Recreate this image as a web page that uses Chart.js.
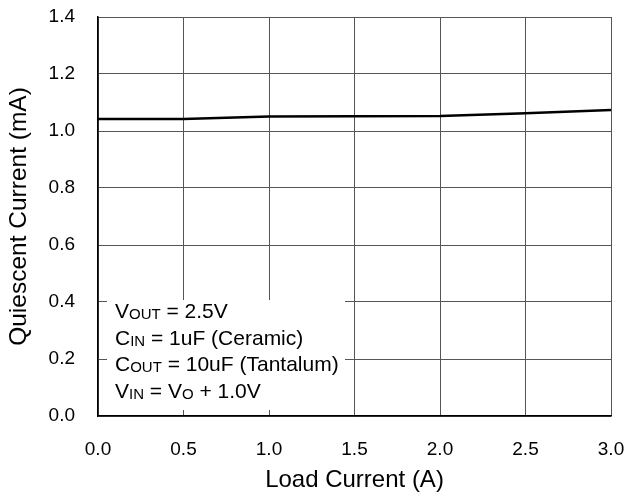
<!DOCTYPE html>
<html>
<head>
<meta charset="utf-8">
<script src="https://cdn.jsdelivr.net/npm/chart.js@4"></script>
<style>
  html, body { margin: 0; padding: 0; background: #fff; }
  #wrap { width: 640px; height: 498px; }
</style>
</head>
<body>
<div id="wrap"><canvas id="c" width="640" height="498"></canvas></div>
<script>
// Quiescent current vs load current
const loadCurrent = [0, 0.5, 1.0, 1.5, 2.0, 2.5, 3.0];
const quiescent = [1.042, 1.042, 1.051, 1.052, 1.053, 1.062, 1.074];
const xTicks = [0, 0.5, 1.0, 1.5, 2.0, 2.5, 3.0];
const yTicks = [0, 0.2, 0.4, 0.6, 0.8, 1.0, 1.2, 1.4];

// Test conditions: alternating normal text and subscripts
const conditions = [
  ['V', 'OUT', ' = 2.5V'],
  ['C', 'IN', ' = 1uF (Ceramic)'],
  ['C', 'OUT', ' = 10uF (Tantalum)'],
  ['V', 'IN', ' = V', 'O', ' + 1.0V']
];

const FONT = '"Liberation Sans", Arial, sans-serif';

const conditionBox = {
  id: 'conditionBox',
  afterDatasetsDraw(chart) {
    const ctx = chart.ctx;
    const xs = chart.scales.x, ys = chart.scales.y;
    ctx.save();
    ctx.fillStyle = '#fff';
    ctx.fillRect(xs.left + 9, ys.bottom - 116, 238, 110);
    ctx.fillStyle = '#000';
    ctx.textBaseline = 'alphabetic';
    let base = ys.bottom - 98;
    conditions.forEach((parts) => {
      let x = xs.left + 17;
      parts.forEach((p, i) => {
        const sub = i % 2 === 1;
        ctx.font = (sub ? '15px ' : '21px ') + FONT;
        ctx.fillText(p, x, base + (sub ? 1 : 0));
        x += ctx.measureText(p).width;
      });
      base += 26.7;
    });
    ctx.restore();
  }
};

new Chart(document.getElementById('c'), {
  type: 'line',
  data: {
    datasets: [{
      data: loadCurrent.map((x, i) => ({ x, y: quiescent[i] })),
      borderColor: '#000',
      borderWidth: 2.5,
      pointRadius: 0,
      tension: 0,
      fill: false
    }]
  },
  options: {
    responsive: false,
    animation: false,
    events: [],
    layout: { padding: { top: 17, right: 29, left: 0, bottom: 0 } },
    plugins: { legend: { display: false }, tooltip: { enabled: false } },
    scales: {
      x: {
        type: 'linear',
        min: 0, max: 3.0,
        afterBuildTicks(s) { s.ticks = xTicks.map(v => ({ value: v })); },
        afterFit(s) { s.height = 82; s.paddingLeft = 0; s.paddingRight = 0; },
        grid: { color: '#555', lineWidth: 1, drawTicks: false },
        border: { color: '#000', width: 1.5 },
        ticks: {
          padding: 22,
          color: '#000',
          font: { family: FONT, size: 19 },
          maxRotation: 0,
          callback: v => v.toFixed(1)
        },
        title: {
          display: true,
          text: 'Load Current (A)',
          color: '#000',
          font: { family: FONT, size: 24 },
          padding: { top: 0, bottom: 3 }
        }
      },
      y: {
        min: 0, max: 1.4,
        afterBuildTicks(s) { s.ticks = yTicks.map(v => ({ value: v })); },
        afterFit(s) { s.width = 98; s.paddingTop = 0; s.paddingBottom = 0; },
        grid: { color: '#555', lineWidth: 1, drawTicks: false },
        border: { color: '#000', width: 1.5 },
        ticks: {
          padding: 23,
          color: '#000',
          font: { family: FONT, size: 19 },
          callback: v => v.toFixed(1)
        },
        title: {
          display: true,
          text: 'Quiescent Current (mA)',
          color: '#000',
          font: { family: FONT, size: 24.5 },
          padding: { top: 5, bottom: 0 }
        }
      }
    }
  },
  plugins: [conditionBox]
});
</script>
</body>
</html>
